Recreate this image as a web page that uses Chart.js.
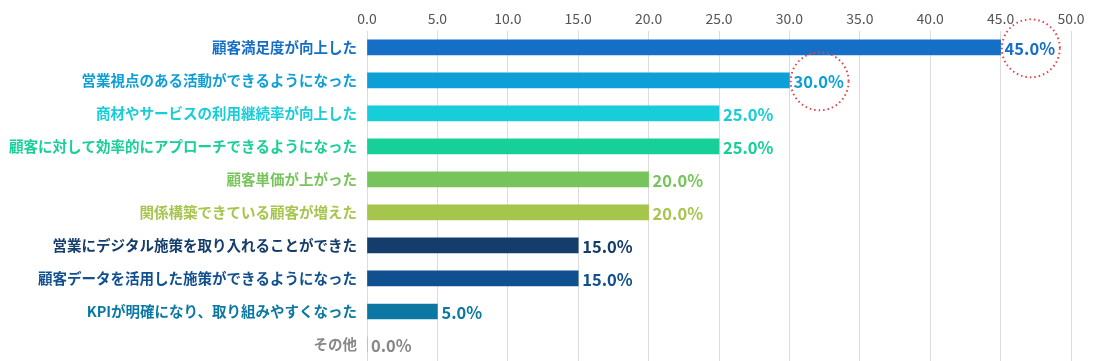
<!DOCTYPE html>
<html>
<head>
<meta charset="utf-8">
<script src="https://cdn.jsdelivr.net/npm/chart.js@4"></script>
<style>
  html, body { margin: 0; padding: 0; background: #fff; }
  #wrap { width: 1105px; height: 361px; position: relative; }
</style>
</head>
<body>
<div id="wrap"><canvas id="chart"></canvas></div>
<script>
// データ
const categories = [
  '顧客満足度が向上した',
  '営業視点のある活動ができるようになった',
  '商材やサービスの利用継続率が向上した',
  '顧客に対して効率的にアプローチできるようになった',
  '顧客単価が上がった',
  '関係構築できている顧客が増えた',
  '営業にデジタル施策を取り入れることができた',
  '顧客データを活用した施策ができるようになった',
  'KPIが明確になり、取り組みやすくなった',
  'その他'
];
const values = [45, 30, 25, 25, 20, 20, 15, 15, 5, 0];
const barColors = ['#156fc7', '#0e9fd6', '#17cdd8', '#17cf98', '#78c45c', '#a6c54c', '#153d6b', '#11508f', '#0a78a3', '#888888'];
const circled = [0, 1]; // 赤い点線の丸で囲む項目

const FONT = '"Noto Sans CJK JP", "Noto Sans", sans-serif';

// 値ラベル + 点線の丸
const valueLabels = {
  id: 'valueLabels',
  afterDatasetsDraw(chart) {
    const { ctx } = chart;
    const meta = chart.getDatasetMeta(0);
    ctx.save();
    ctx.font = 'bold 16.5px ' + FONT;
    ctx.textBaseline = 'middle';
    ctx.textAlign = 'left';
    meta.data.forEach((bar, i) => {
      const text = values[i].toFixed(1) + '%';
      const x = bar.x + 4;
      ctx.fillStyle = barColors[i];
      ctx.fillText(text, x, bar.y + 1);
      if (circled.includes(i)) {
        const w = ctx.measureText(text).width;
        ctx.beginPath();
        ctx.setLineDash([1.5, 3]);
        ctx.lineWidth = 2;
        ctx.strokeStyle = '#e0464b';
        ctx.arc(x + w / 2 + 1, bar.y + 1, 29, 0, Math.PI * 2);
        ctx.stroke();
      }
    });
    ctx.restore();
  }
};

new Chart(document.getElementById('chart'), {
  type: 'bar',
  data: {
    labels: categories,
    datasets: [{
      data: values,
      backgroundColor: barColors,
      barThickness: 15
    }]
  },
  options: {
    indexAxis: 'y',
    responsive: true,
    maintainAspectRatio: false,
    animation: false,
    layout: { padding: { top: 6, right: 34, bottom: 0, left: 0 } },
    plugins: {
      legend: { display: false },
      tooltip: { enabled: false }
    },
    scales: {
      x: {
        position: 'top',
        min: 0,
        max: 50,
        ticks: {
          stepSize: 5,
          color: '#555',
          font: { family: FONT, size: 14 },
          padding: 4,
          callback: v => v.toFixed(1)
        },
        grid: { color: '#dcdcdc', drawTicks: false },
        border: { display: false }
      },
      y: {
        afterFit: scale => {
          scale.width = 367;
          scale.paddingTop = 0;
          scale.paddingBottom = 0;
        },
        ticks: {
          color: ctx => barColors[ctx.index],
          font: { family: FONT, size: 14.5, weight: 'bold' },
          padding: 10
        },
        grid: { display: false, drawTicks: false },
        border: { display: false }
      }
    }
  },
  plugins: [valueLabels]
});
</script>
</body>
</html>
